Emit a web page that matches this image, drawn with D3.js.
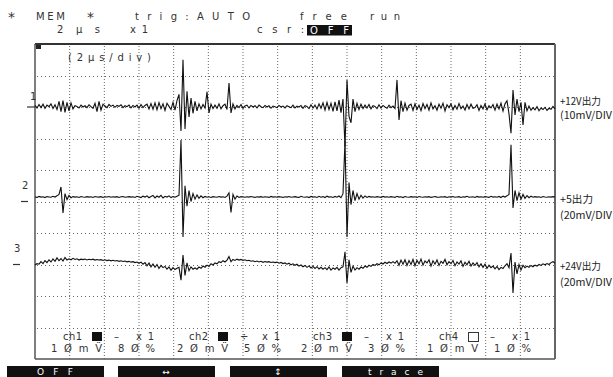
<!DOCTYPE html>
<html><head><meta charset="utf-8">
<script src="https://cdn.jsdelivr.net/npm/d3@7"></script>
<style>body{margin:0;background:#fff}svg{display:block}</style>
</head><body>
<svg id="c" width="613" height="377"></svg>
<script>
// ---- data ----
const timePerDiv = 2;            // µs / div
const divisionsX = 15;
const divisionsY = 10;
const channelNames = ["ch1", "ch2", "ch3", "ch4"];
const mvPerDiv = [10, 20, 20, 10];          // mV / div
const positionPct = [80, 50, 30, 10];       // trace zero position (%)
const sensText = ["1Øm", "2Øm", "2Øm", "1Øm"];
const posText = ["8Ø%", "5Ø%", "3Ø%", "1Ø%"];
const couplingText = ["–", "÷", "–", "–"];
const traceLabels = ["+12V出力", "+5出力", "+24V出力"];
const traceScales = ["(10mV/DIV", "(20mV/DIV", "(20mV/DIV"];
const buttonLabels = ["OFF", "↔", "↕", "trace"];

// sampled traces (mV), 261 samples over 30 µs
const ch1 = [
 0.5,-0.3,0.8,-0.2,0.9,-0.4,0.6,0.1,1.0,-0.5,
 0.7,-0.8,1.8,-1.5,2.0,-1.7,1.5,-1.2,1.3,-0.6,
 0.4,0.2,-0.3,0.6,0.0,0.4,-0.2,0.7,0.1,-0.4,
 1.2,-1.5,1.8,-1.0,0.9,0.3,-0.2,0.8,0.2,0.6,
 -0.1,0.5,0.2,0.7,-0.2,0.4,0.1,0.6,-0.3,0.5,
 0.0,0.6,-0.4,0.8,-0.2,0.5,0.9,-0.6,1.1,-0.7,
 1.3,-0.9,1.4,-0.5,1.0,-1.1,1.2,0.2,-0.8,1.5,
 -1.0,2.0,4.0,-7.6,15.0,-7.0,5.0,-3.2,2.8,-2.0,
 1.8,-1.2,1.0,-0.6,0.8,-0.3,4.8,-1.9,0.9,-0.5,
 0.6,-0.4,1.0,-0.6,0.4,0.9,-0.8,7.6,-1.9,1.0,
 -0.6,0.5,-0.2,0.8,-0.4,0.3,0.6,-0.3,0.5,0.0,
 0.4,-0.3,0.6,0.1,-0.2,0.5,0.0,0.4,-0.4,0.3,
 0.1,-0.2,0.5,0.0,0.3,-0.3,0.4,0.1,-0.2,0.6,
 -0.3,0.3,0.0,0.5,-0.4,0.4,0.2,-0.5,0.7,-0.3,
 0.6,-0.6,1.0,-0.4,1.3,-1.0,1.5,-0.8,1.2,-1.4,
 1.6,-1.2,2.2,-1.8,2.5,-12.6,8.6,-3.0,-5.0,2.5,
 -1.5,1.2,-0.8,0.9,-0.5,0.6,-0.3,0.8,-0.6,0.4,
 0.2,-0.5,0.7,-0.3,0.5,0.0,-0.4,0.6,-0.2,0.3,
 -0.5,8.6,-4.1,2.0,-1.5,1.2,-1.0,0.5,0.9,-1.1,
 1.0,-0.8,0.6,-1.2,1.1,-0.5,0.8,-1.0,1.3,-0.6,
 0.4,-1.0,0.9,-0.4,1.2,-1.3,0.7,-0.2,1.0,-0.9,
 0.5,-0.7,1.1,-0.5,0.3,-1.0,0.8,-0.6,0.9,-0.4,
 -0.2,0.7,-1.1,0.5,-0.6,1.0,-0.9,0.4,-0.3,0.8,
 -1.0,0.9,-0.6,1.2,-1.3,1.0,2.0,-2.2,-8.3,5.4,
 -2.5,2.5,-1.5,1.5,-5.7,1.5,-1.2,0.3,-1.0,-0.2,
 -0.9,0.1,-1.2,-0.3,-0.8,-0.1,-1.1,-0.4,-0.7,0.2,-0.6
];
const ch2 = [
 2.9,2.6,3.2,2.8,3.0,2.5,3.1,2.9,2.7,3.3,
 2.8,3.6,4.5,9.2,-7.3,5.0,1.2,3.8,2.4,3.1,
 2.8,3.0,2.6,3.2,2.9,2.7,3.1,2.8,3.0,2.6,
 3.2,2.9,2.8,3.1,2.6,3.0,2.9,3.2,2.7,3.0,
 2.8,3.1,2.6,3.0,3.2,2.7,2.9,3.1,2.8,3.0,
 2.6,3.3,2.9,2.5,3.4,2.8,3.6,2.4,3.2,3.8,
 2.3,3.5,2.7,3.9,2.2,3.3,2.8,3.6,2.5,3.1,
 2.7,3.4,4.0,39.0,-22.5,10.0,-3.0,7.0,0.0,5.0,
 1.5,4.2,2.0,3.6,2.4,3.2,2.7,3.0,2.6,3.1,
 2.9,2.7,3.2,2.8,3.0,2.6,3.4,5.5,-7.0,4.5,
 1.5,3.5,2.6,3.1,2.9,2.7,3.0,2.8,3.2,2.9,
 2.6,3.0,2.8,3.1,2.7,3.0,2.9,2.6,3.2,2.8,
 3.0,2.7,3.1,2.9,2.6,3.0,2.8,3.2,2.7,2.9,
 3.1,2.8,2.6,3.3,2.9,2.7,3.0,2.5,3.2,2.8,
 3.0,2.6,3.3,2.7,3.1,2.5,3.4,2.8,3.0,2.6,
 3.2,2.7,3.5,2.4,5.0,38.5,-22.5,12.0,-2.0,7.0,
 0.5,5.0,1.5,4.0,2.2,3.5,2.6,3.2,2.8,3.0,
 2.7,3.1,2.9,2.6,3.2,2.8,3.0,2.7,3.1,2.9,
 2.6,3.3,2.8,3.0,2.5,3.2,2.9,2.7,3.1,2.8,
 3.0,2.6,3.2,2.9,2.7,3.0,2.8,3.1,2.6,2.9,
 3.2,2.8,2.7,3.0,2.9,3.1,2.6,3.0,2.8,3.2,
 2.7,2.9,3.1,2.6,3.0,2.8,3.3,2.7,2.9,3.0,
 2.6,3.2,2.8,3.0,2.7,3.1,2.9,2.6,3.3,2.8,
 3.0,2.7,3.2,2.5,3.4,2.8,3.6,4.5,36.0,-4.1,
 7.0,0.5,5.5,1.5,4.5,2.0,3.8,2.4,3.4,2.7,
 3.1,2.8,3.0,2.6,3.2,2.9,2.7,3.0,2.8,3.1,2.9
];
const ch3 = [
 -0.3,0.5,0.2,1.8,0.6,2.5,1.2,3.0,1.6,3.5,
 2.0,4.2,2.4,3.8,2.2,4.4,2.8,3.6,3.0,3.9,
 3.2,3.6,2.8,3.4,3.1,3.5,2.9,3.3,3.0,3.4,
 2.8,3.2,2.9,3.1,2.6,3.0,2.5,2.8,2.3,2.7,
 2.2,2.5,2.0,2.4,1.9,2.2,1.7,2.0,1.5,1.8,
 1.2,1.6,0.8,1.5,0.2,1.2,-0.8,0.9,-1.5,0.3,
 -1.8,0.0,-2.5,-0.6,-2.0,-1.2,-3.0,-1.5,-3.6,-2.0,
 -3.2,-2.4,-1.8,-10.0,6.0,-7.0,1.0,-4.0,-1.5,-3.0,
 -2.2,-3.0,-1.6,-2.4,-1.0,-1.8,-0.4,-1.2,0.5,-0.3,
 1.0,0.4,1.8,1.2,2.4,1.6,2.8,5.0,1.8,3.2,
 2.6,3.4,2.8,3.2,2.6,3.0,2.4,2.7,2.1,2.4,
 1.8,2.2,1.6,2.0,1.4,1.9,1.5,1.8,1.3,1.6,
 1.2,1.5,0.8,1.3,0.6,1.0,0.2,0.8,-0.2,0.4,
 -0.5,0.2,-1.0,-0.3,-1.4,-0.6,-1.8,-0.9,-2.2,-1.2,
 -2.5,-1.4,-2.8,-1.8,-3.0,-2.0,-3.3,-1.6,-3.5,-2.2,
 -3.0,-1.8,-3.6,-2.0,-1.5,8.0,-11.7,3.0,-5.0,-1.0,
 -3.5,-2.0,-3.0,-1.6,-2.4,-1.0,-1.8,-0.5,-1.2,0.0,
 -0.6,0.5,-0.2,1.0,0.3,1.4,0.6,1.6,0.9,1.8,
 0.8,2.4,-0.5,2.8,0.2,3.0,-0.6,2.5,0.0,3.2,
 -0.8,2.6,0.4,3.4,-0.4,2.2,1.0,3.0,-1.0,2.4,
 0.2,2.9,-0.6,2.0,0.8,3.2,-0.2,1.8,0.5,2.6,
 -0.8,1.6,0.3,2.4,-1.2,1.4,-0.2,2.0,-1.0,1.0,
 -0.6,1.2,-1.5,0.5,-1.8,0.2,-2.4,-0.5,-2.0,-1.0,
 -2.8,-1.2,-3.2,-1.8,-2.5,-0.8,0.5,-2.0,7.3,-18.0,
 1.5,-6.0,0.0,-3.5,-0.5,-2.0,-1.0,-1.8,-0.6,-1.4,
 -0.4,-1.0,0.0,-0.6,0.4,-0.2,0.6,0.0,1.2,1.8,0.8
];
const traces = [ch1, ch2, ch3];

// ---- layout ----
const svg = d3.select("#c");
const L = 35, R = 555, T = 44, B = 359;
const totalTime = timePerDiv * divisionsX;
const x = d3.scaleLinear().domain([0, totalTime]).range([L, R]);
const yDiv = d3.scaleLinear().domain([0, divisionsY]).range([B, T]);
const yScales = mvPerDiv.map((m, i) => {
  const p = positionPct[i] / 100;
  return d3.scaleLinear().domain([-p * divisionsY * m, (1 - p) * divisionsY * m]).range([B, T]);
});

const FONT = "'DejaVu Sans', sans-serif";
const JFONT = "'Noto Sans CJK JP', sans-serif";
function text(xp, yp, s, o = {}) {
  const t = svg.append("text").attr("x", xp).attr("y", yp).text(s)
    .attr("font-family", o.family || FONT).attr("font-size", o.size || 10)
    .attr("fill", o.fill || "#333");
  if (o.w) t.attr("textLength", o.w).attr("lengthAdjust", o.adjust || "spacing");
  if (o.anchor) t.attr("text-anchor", o.anchor);
  return t;
}

// grid
const gx = d3.range(1, divisionsX);
const gy = d3.range(1, divisionsY);
svg.append("g").selectAll("line").data(gx).join("line")
  .attr("x1", d => x(d * timePerDiv)).attr("x2", d => x(d * timePerDiv))
  .attr("y1", T + 2).attr("y2", B)
  .attr("stroke", "#666").attr("stroke-width", 1).attr("stroke-dasharray", "1,2");
svg.append("g").selectAll("line").data(gy).join("line")
  .attr("x1", L + 2).attr("x2", R)
  .attr("y1", d => Math.round(yDiv(d)) + 0.5).attr("y2", d => Math.round(yDiv(d)) + 0.5)
  .attr("stroke", "#666").attr("stroke-width", 1).attr("stroke-dasharray", "1,3");

// frame
svg.append("line").attr("x1", L).attr("x2", R).attr("y1", T).attr("y2", T).attr("stroke", "#333").attr("stroke-width", 2);
svg.append("line").attr("x1", L).attr("x2", R).attr("y1", B).attr("y2", B).attr("stroke", "#555").attr("stroke-width", 1.5);
svg.append("line").attr("x1", L).attr("x2", L).attr("y1", T).attr("y2", B).attr("stroke", "#555").attr("stroke-width", 1.5);
svg.append("line").attr("x1", R).attr("x2", R).attr("y1", T).attr("y2", B).attr("stroke", "#666").attr("stroke-width", 2);
svg.append("rect").attr("x", L + 1).attr("y", T + 1).attr("width", 5).attr("height", 4).attr("fill", "#222");

// header
text(8, 22, "*", {size: 14});
text(36, 20, "MEM", {w: 29});
text(87, 22, "*", {size: 14});
text(135, 20, "trig:AUTO", {w: 115});
text(300, 20, "free", {w: 47});
text(370, 20, "run", {w: 30});
text(57, 33, "2µs", {w: 43});
text(130, 33, "x1", {w: 18});
text(257, 33, "csr:", {w: 47});
svg.append("rect").attr("x", 307).attr("y", 25).attr("width", 45).attr("height", 10.5).attr("fill", "#111");
text(310, 34, "OFF", {w: 39, fill: "#fff"});
text(68, 61, "(2µs/div)", {w: 83});

// traces
const sampleDt = totalTime / (ch1.length - 1);
traces.forEach((vals, c) => {
  const line = d3.line().x((d, i) => x(i * sampleDt)).y(d => yScales[c](d));
  svg.append("path").attr("d", line(vals)).attr("fill", "none")
    .attr("stroke", "#111").attr("stroke-width", 1.1).attr("stroke-linejoin", "miter");
});

// channel markers on the left
const markerX = [[27, 35, 30], [21, 28, 22], [13, 20, 14]];
[0, 1, 2].forEach(c => {
  const y0 = yScales[c](0);
  svg.append("line").attr("x1", markerX[c][0]).attr("x2", markerX[c][1])
    .attr("y1", y0).attr("y2", y0).attr("stroke", "#333").attr("stroke-width", 1.2);
  text(markerX[c][2], y0 - (c === 0 ? 7 : 13), String(c + 1), {size: 10});
});

// right labels
const labelY = [[105, 119], [203, 219], [270, 286]];
traceLabels.forEach((s, c) => {
  text(560, labelY[c][0], s, {family: JFONT, size: 10.5, w: c === 1 ? 33 : 41, adjust: "spacingAndGlyphs", fill: "#222"});
  text(560, labelY[c][1], traceScales[c], {family: JFONT, size: 10.5, w: 52, adjust: "spacingAndGlyphs", fill: "#222"});
});

// channel info
const infoX = [63, 189, 313, 439];
channelNames.forEach((n, c) => {
  const x0 = infoX[c];
  text(x0, 340, n, {w: 19});
  if (c < 3) svg.append("rect").attr("x", x0 + 29).attr("y", 332).attr("width", 10).attr("height", 9).attr("fill", "#111");
  else svg.append("rect").attr("x", x0 + 29.5).attr("y", 332.5).attr("width", 10).attr("height", 9).attr("fill", "none").attr("stroke", "#333");
  text(x0 + 51, 340, couplingText[c], {w: 8});
  text(x0 + 73, 340, "x 1", {w: 18});
  text(x0 - 12, 352, sensText[c].split("").join(" ") + " V" + (c < 3 ? "\u0308" : ""), {w: 51});
  text(x0 + 55, 352, posText[c].split("").join(" "), {w: 37});
});

// buttons
const btnX = [7, 118, 230, 342];
buttonLabels.forEach((s, i) => {
  svg.append("rect").attr("x", btnX[i]).attr("y", 366).attr("width", 97).attr("height", 11).attr("fill", "#111");
  if (s.length > 1) text(btnX[i] + (i === 0 ? 30 : 26), 374.5, s, {w: i === 0 ? 36 : 55, fill: "#fff", size: 9});
  else text(btnX[i] + 48, 374.5, s, {anchor: "middle", fill: "#fff", size: 9});
});
</script>
</body></html>
